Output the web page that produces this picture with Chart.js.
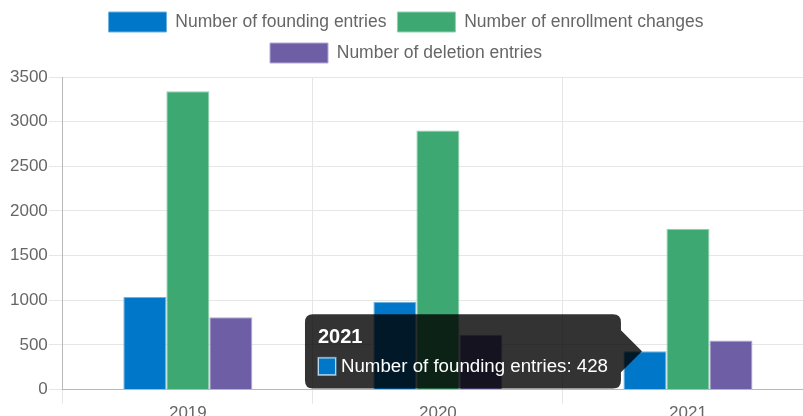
<!DOCTYPE html>
<html><head><meta charset="utf-8">
<script src="https://cdn.jsdelivr.net/npm/chart.js@4"></script>
<style>html,body{margin:0;padding:0;overflow:hidden;background:#fff}canvas{display:block}</style>
</head><body>
<canvas id="c" width="813" height="424"></canvas>
<script>
const categories = ['2019', '2020', '2021'];
const seriesNames = ['Number of founding entries', 'Number of enrollment changes', 'Number of deletion entries'];
const foundingEntries = [1036, 983, 428];
const enrollmentChanges = [3340, 2900, 1800];
const deletionEntries = [810, 615, 550];
const yTickMin = 0, yTickMax = 3500, yTickStep = 500;

const FONT = "'Liberation Sans', Arial, sans-serif";
Chart.defaults.font.family = FONT;
Chart.defaults.color = '#666';

Chart.Tooltip.positioners.barTop = function (items) {
  if (!items.length) return false;
  const el = items[0].element;
  return { x: el.x, y: el.y };
};

const legendTweak = {
  id: 'legendTweak',
  afterInit(chart) {
    const lg = chart.legend;
    if (lg && !lg._tweaked) {
      const orig = lg.fit;
      lg.fit = function () { orig.call(this); this.height += 4; };
      lg._tweaked = true;
    }
  },
  afterLayout(chart) {
    if (chart.legend) { chart.legend.left = 0; chart.legend.right = 812; }
  }
};

const chart = new Chart(document.getElementById('c'), {
  type: 'bar',
  data: {
    labels: categories,
    datasets: [
      { label: seriesNames[0], data: foundingEntries, backgroundColor: '#0077c8', borderColor: '#6fb2e0', borderWidth: 1 },
      { label: seriesNames[1], data: enrollmentChanges, backgroundColor: '#3da872', borderColor: '#92d1b0', borderWidth: 1 },
      { label: seriesNames[2], data: deletionEntries, backgroundColor: '#6e5ea6', borderColor: '#b3aad4', borderWidth: 1 }
    ]
  },
  options: {
    responsive: false,
    animation: false,
    events: [],
    layout: { padding: { left: 9, right: 0, top: 1, bottom: 0 } },
    datasets: { bar: { categoryPercentage: 0.516, barPercentage: 1.0 } },
    plugins: {
      legend: {
        position: 'top',
        labels: { boxWidth: 58, boxHeight: 20, padding: 11, font: { size: 17.5 }, color: '#666' }
      },
      tooltip: {
        enabled: true,
        position: 'barTop',
        backgroundColor: 'rgba(0,0,0,0.8)',
        titleFont: { size: 20, weight: 'bold' },
        bodyFont: { size: 18.7 },
        titleColor: '#fff',
        bodyColor: '#fff',
        padding: { x: 13, y: 11 },
        titleMarginBottom: 6,
        cornerRadius: 8,
        caretSize: 21,
        caretPadding: 3,
        boxWidth: 18,
        boxHeight: 18,
        boxPadding: 3
      }
    },
    scales: {
      x: {
        grid: { color: '#e6e6e6', tickLength: 14, offset: true },
        border: { color: '#b8b8b8' },
        ticks: { font: { size: 17 }, color: '#666', padding: 0 }
      },
      y: {
        min: yTickMin, max: yTickMax,
        grid: { color: '#e6e6e6', tickLength: 14 },
        border: { color: '#b8b8b8' },
        ticks: { stepSize: yTickStep, font: { size: 17 }, color: '#666', padding: 1,
                 callback: (v) => String(v) }
      }
    }
  },
  plugins: [legendTweak]
});

chart.tooltip.setActiveElements([{ datasetIndex: 0, index: 2 }], { x: 0, y: 0 });
chart.update();
</script>
</body></html>
